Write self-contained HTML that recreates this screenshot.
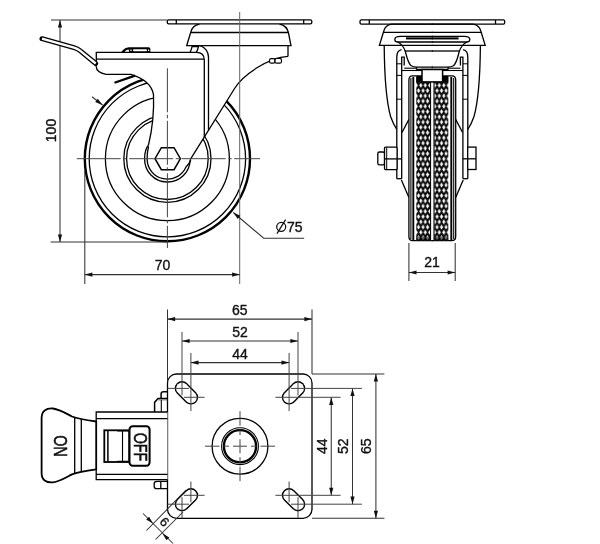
<!DOCTYPE html>
<html><head><meta charset="utf-8"><style>
html,body{margin:0;padding:0;background:#fff;}
svg{display:block;will-change:transform;}
text{font-family:"Liberation Sans",sans-serif;fill:#111;stroke:#111;stroke-width:0.35px;}
.k{fill:none;stroke:#000;stroke-width:1.3;}
.t{fill:none;stroke:#333;stroke-width:1.05;}
.x{fill:none;stroke:#444;stroke-width:1.0;}
.c{fill:none;stroke:#444;stroke-width:1.0;stroke-dasharray:44 2.5 3.5 2.5;}
</style></head><body>
<svg width="600" height="544" viewBox="0 0 600 544">
<defs>
<pattern id="knurl" x="416.3" y="77.5" width="4.5" height="10.5" patternUnits="userSpaceOnUse">
<rect width="4.5" height="10.5" fill="#0a0a0a"/>
<path d="M2.25,0.55 L3.6,2.625 L2.25,4.7 L0.9,2.625 Z" fill="#fff" stroke="#fff" stroke-width="0.5" stroke-linejoin="round"/>
<path d="M0,5.8 L1.35,7.875 L0,9.95 L-1.35,7.875 Z" fill="#fff" stroke="#fff" stroke-width="0.5" stroke-linejoin="round"/>
<path d="M4.5,5.8 L5.85,7.875 L4.5,9.95 L3.15,7.875 Z" fill="#fff" stroke="#fff" stroke-width="0.5" stroke-linejoin="round"/>
</pattern>
</defs>
<rect width="600" height="544" fill="#fff"/>
<circle cx="167.4" cy="158.7" r="82.6" style="stroke-width:2.4" class="k"/>
<circle cx="167.4" cy="158.7" r="78.2" class="k"/>
<circle cx="167.4" cy="158.7" r="62" class="k"/>
<circle cx="167.4" cy="158.7" r="43.6" class="k"/>
<circle cx="167.4" cy="158.7" r="40.8" class="k"/>
<path d="M96.3,52.3 L190,52.3 L192.3,45.7 L200,45.7 C205,47 208.7,52 208.7,57 L208.7,60 L288,56 C268,57.5 242.9,75.2 234.9,88 L190.2,159.7 A22.8,22.8 0 0 1 144.6,158.7 C144.6,152 146,148 148.5,145 Q154.5,120 153.5,94.5 C152,86 146,79 131,74.3 L106,74.3 C100,73 96.3,70 96.3,66.7 Z" fill="#fff" stroke="none"/>
<path class="k" d="M96.3,66.7 L96.3,52.3 L196.3,52.3 C201,52.3 204.3,55 204.3,60 L204.3,137.2"/>
<path class="k" d="M96.3,59.2 L204.3,59.2"/>
<path class="k" d="M200,45.7 C205,47 208.5,52 208.5,57 L208.5,130.5"/>
<path class="k" d="M192.3,45.7 C191.5,49 191,51 190,52.3"/>
<path class="k" d="M198.7,45.7 C198,49 197.3,51 196.3,52.3"/>
<path d="M192.3,45.4 L199.5,45.4 L199,47.3 L192,47.3 Z" fill="#000"/>
<path class="k" d="M96.3,66.7 C96.3,70 100,73 106,74.3 L131,74.3 C146,79 152,86 153.5,94.5 Q154.5,120 148.5,145"/>
<path class="k" d="M148.5,145 C146,148 144.6,152 144.6,158.7 A22.8,22.8 0 0 0 190.2,159.7"/>
<path class="k" d="M148.6,146.5 C147.6,150 147.1,154 147.1,158.7 A20.3,20.3 0 0 0 186,167 C188,165 189.5,163 190.8,160.2"/>
<path class="k" d="M288,56.3 C268,57.5 242.9,75.2 234.9,88 L190.2,159.7"/>
<polygon style="stroke-width:1.5" class="k" points="180.40,158.70 174.05,169.70 161.35,169.70 155.00,158.70 161.35,147.70 174.05,147.70"/>
<path class="k" d="M199.5,24 C194.5,25 191.5,28 190.5,33 L186.7,45.7 L291,45.7 L288.5,33 C287.5,28 284,25 279.5,24"/>
<path class="k" d="M190.8,32.5 L289,32.5"/>
<path class="k" d="M288,45.7 L288,56.5"/>
<rect x="269.5" y="58.6" width="5.5" height="4.6" rx="1.8" style="stroke-width:1.2;fill:#fff" class="k"/>
<rect x="275" y="58.4" width="6.5" height="4.8" rx="1.8" style="stroke-width:1.2;fill:#fff" class="k"/>
<rect x="167.3" y="19.9" width="144.5" height="4" rx="1.4" style="fill:#fff" class="k"/>
<line x1="176.3" y1="19.9" x2="176.3" y2="23.9" class="k"/>
<line x1="303.7" y1="19.9" x2="303.7" y2="23.9" class="k"/>
<path fill="#000" d="M120.8,52.8 C123,49.6 125.5,47.2 129,47.2 L148.6,47.2 Q150.4,47.2 150.4,49 L150.4,52.8 Z"/>
<rect x="133" y="49.3" width="14" height="1.9" rx="0.95" fill="#fff"/>
<path d="M124.6,51.7 C125.8,50.3 127,49.5 128.6,49.4 L129.2,51.7 Z" fill="#fff"/>
<rect x="130.3" y="49.6" width="1.4" height="1.4" fill="#fff"/>
<rect x="148" y="49.6" width="1.2" height="1.4" fill="#fff"/>
<line x1="114.5" y1="82.8" x2="135" y2="75.6" stroke="#000" stroke-width="2.2"/>
<line x1="76.7" y1="158.7" x2="260" y2="158.7" class="c"/>
<line x1="167.4" y1="68.3" x2="167.4" y2="248" class="c"/>
<line x1="239.7" y1="12" x2="239.7" y2="284" style="stroke:#666" class="x"/>
<line x1="51" y1="20" x2="167" y2="20" class="t"/>
<line x1="50.6" y1="242" x2="167" y2="242" class="t"/>
<line x1="60" y1="20" x2="60" y2="242" class="t"/>
<path d="M60.00,20.00 L62.10,27.60 L57.90,27.60 Z" fill="#111"/>
<path d="M60.00,242.00 L57.90,234.40 L62.10,234.40 Z" fill="#111"/>
<text x="55.5" y="130.5" font-size="14" text-anchor="middle" transform="rotate(-90 55.5 130.5)">100</text>
<line x1="84.8" y1="170" x2="84.8" y2="284" class="t"/>
<line x1="84.8" y1="274.6" x2="239.7" y2="274.6" class="t"/>
<path d="M84.80,274.60 L92.40,272.50 L92.40,276.70 Z" fill="#111"/>
<path d="M239.70,274.60 L232.10,276.70 L232.10,272.50 Z" fill="#111"/>
<text x="162.5" y="270" font-size="14" text-anchor="middle">70</text>
<path class="t" d="M233.3,212.5 L263.7,238.2 L304.2,238.2"/>
<path d="M233.30,212.50 L240.46,215.80 L237.75,219.01 Z" fill="#111"/>
<line x1="92" y1="96.75" x2="102.5" y2="105" class="t"/>
<path d="M102.50,105.00 L95.23,101.96 L97.82,98.65 Z" fill="#111"/>
<circle cx="281.2" cy="226.8" r="4.5" fill="none" stroke="#111" stroke-width="1.25"/>
<line x1="277" y1="233.6" x2="285.6" y2="219.6" stroke="#111" stroke-width="1.25"/>
<text x="287" y="231.6" font-size="14" text-anchor="start">75</text>
<path d="M42,38.7 L74,47.6 Q77.5,48.6 80,50.6 L95.7,63.5" fill="none" stroke="#000" stroke-width="5.0" stroke-linecap="round" stroke-linejoin="round"/>
<path d="M42,38.7 L74,47.6 Q77.5,48.6 80,50.6 L95.7,63.5" fill="none" stroke="#fff" stroke-width="2.4" stroke-linecap="butt" stroke-linejoin="round"/>
<rect x="360" y="19.9" width="144.7" height="4.2" rx="1.4" style="fill:#fff" class="k"/>
<line x1="369.3" y1="19.9" x2="369.3" y2="24.1" class="k"/>
<line x1="495.5" y1="19.9" x2="495.5" y2="24.1" class="k"/>
<path class="k" d="M432.9,24.1 L391.4,24.1 C386.5,25 384.5,28 383.8,31 L379.4,45.4 L432.9,45.4"/>
<line x1="383.3" y1="32.4" x2="432.9" y2="32.4" class="k"/>
<path class="k" d="M384.2,45.4 C384.4,70 386,100 390.6,116.5 C392.5,122 394.5,126 396.8,129.5"/>
<path class="k" d="M396.8,178.7 L396.8,57 C396.8,52.5 398.5,50.2 401.5,49.6"/>
<path class="k" d="M401.7,178.7 L401.7,57.2 L404.2,57.2 L404.2,65.5"/>
<line x1="396.8" y1="178.7" x2="401.7" y2="178.7" class="k"/>
<line x1="396.8" y1="99.2" x2="401.7" y2="99.2" style="stroke-width:1" class="k"/>
<line x1="396.8" y1="63.8" x2="401.7" y2="63.8" style="stroke-width:1" class="k"/>
<line x1="396.8" y1="75.4" x2="401.7" y2="75.4" style="stroke-width:1" class="k"/>
<line x1="408.9" y1="119.4" x2="402" y2="132.5" class="k"/>
<line x1="401.4" y1="180" x2="408.9" y2="197.4" class="k"/>
<path class="k" d="M432.9,36.3 L400.4,36.3 C396.6,36.3 394.8,37.8 394.8,39.4 C394.8,41 396,42 398.2,42 L432.9,42"/>
<line x1="406" y1="38.4" x2="432.9" y2="38.4" stroke="#000" stroke-width="2.1"/>
<path class="k" d="M397.5,42 C401,43.5 404,47 405.5,52 C407,58 408,63 411.2,65.8 C412.8,66.8 414.5,67.1 416.9,67.1 L432.9,67.1"/>
<line x1="404.8" y1="51" x2="432.9" y2="51" class="k"/>
<path class="k" d="M432.9,69.5 L417.5,69.5 C416.5,69.5 416,68.8 416.9,67.1"/>
<line x1="404.2" y1="68.2" x2="416.6" y2="68.2" style="stroke-width:1.1" class="k"/>
<line x1="401.7" y1="70.5" x2="422" y2="70.5" style="stroke-width:1.1" class="k"/>
<path fill="#fff" stroke="none" d="M432.9,75.9 L412.5,75.9 C410.2,75.9 408.9,77.5 408.9,80 L408.9,236.5 C408.9,239 410.2,240.6 412.8,240.6 L432.9,240.6 Z"/>
<path class="k" d="M432.9,75.9 L412.5,75.9 C410.2,75.9 408.9,77.5 408.9,80 L408.9,236.5 C408.9,239 410.2,240.6 412.8,240.6 L432.9,240.6"/>
<line x1="410.9" y1="78" x2="410.9" y2="239" style="stroke-width:1.1" class="k"/>
<line x1="413.3" y1="77" x2="413.3" y2="240" stroke="#000" stroke-width="1.9"/>
<rect x="416.3" y="75.9" width="14" height="164.7" fill="url(#knurl)"/>
<rect x="416.3" y="75.9" width="5.9" height="6.5" fill="#000"/>
<rect x="416.3" y="236.5" width="14" height="4" fill="#000" opacity="0.55"/>
<line x1="430.6" y1="75.9" x2="430.6" y2="240.6" stroke="#000" stroke-width="1.1"/>
<g transform="translate(864.6,0) scale(-1,1)"><path class="k" d="M432.9,24.1 L391.4,24.1 C386.5,25 384.5,28 383.8,31 L379.4,45.4 L432.9,45.4"/>
<line x1="383.3" y1="32.4" x2="432.9" y2="32.4" class="k"/>
<path class="k" d="M384.2,45.4 C384.4,70 386,100 390.6,116.5 C392.5,122 394.5,126 396.8,129.5"/>
<path class="k" d="M396.8,178.7 L396.8,57 C396.8,52.5 398.5,50.2 401.5,49.6"/>
<path class="k" d="M401.7,178.7 L401.7,57.2 L404.2,57.2 L404.2,65.5"/>
<line x1="396.8" y1="178.7" x2="401.7" y2="178.7" class="k"/>
<line x1="396.8" y1="99.2" x2="401.7" y2="99.2" style="stroke-width:1" class="k"/>
<line x1="396.8" y1="63.8" x2="401.7" y2="63.8" style="stroke-width:1" class="k"/>
<line x1="396.8" y1="75.4" x2="401.7" y2="75.4" style="stroke-width:1" class="k"/>
<line x1="408.9" y1="119.4" x2="402" y2="132.5" class="k"/>
<line x1="401.4" y1="180" x2="408.9" y2="197.4" class="k"/>
<path class="k" d="M432.9,36.3 L400.4,36.3 C396.6,36.3 394.8,37.8 394.8,39.4 C394.8,41 396,42 398.2,42 L432.9,42"/>
<line x1="406" y1="38.4" x2="432.9" y2="38.4" stroke="#000" stroke-width="2.1"/>
<path class="k" d="M397.5,42 C401,43.5 404,47 405.5,52 C407,58 408,63 411.2,65.8 C412.8,66.8 414.5,67.1 416.9,67.1 L432.9,67.1"/>
<line x1="404.8" y1="51" x2="432.9" y2="51" class="k"/>
<path class="k" d="M432.9,69.5 L417.5,69.5 C416.5,69.5 416,68.8 416.9,67.1"/>
<line x1="404.2" y1="68.2" x2="416.6" y2="68.2" style="stroke-width:1.1" class="k"/>
<line x1="401.7" y1="70.5" x2="422" y2="70.5" style="stroke-width:1.1" class="k"/>
<path fill="#fff" stroke="none" d="M432.9,75.9 L412.5,75.9 C410.2,75.9 408.9,77.5 408.9,80 L408.9,236.5 C408.9,239 410.2,240.6 412.8,240.6 L432.9,240.6 Z"/>
<path class="k" d="M432.9,75.9 L412.5,75.9 C410.2,75.9 408.9,77.5 408.9,80 L408.9,236.5 C408.9,239 410.2,240.6 412.8,240.6 L432.9,240.6"/>
<line x1="410.9" y1="78" x2="410.9" y2="239" style="stroke-width:1.1" class="k"/>
<line x1="413.3" y1="77" x2="413.3" y2="240" stroke="#000" stroke-width="1.9"/>
<rect x="416.3" y="75.9" width="14" height="164.7" fill="url(#knurl)"/>
<rect x="416.3" y="75.9" width="5.9" height="6.5" fill="#000"/>
<rect x="416.3" y="236.5" width="14" height="4" fill="#000" opacity="0.55"/>
<line x1="430.6" y1="75.9" x2="430.6" y2="240.6" stroke="#000" stroke-width="1.1"/></g>
<rect x="422" y="69.5" width="20.6" height="12.4" fill="#fff" stroke="#000" stroke-width="1.5"/>
<rect x="377.8" y="152" width="6.8" height="12.8" rx="1.6" style="fill:#fff" class="k"/>
<rect x="384.5" y="147.1" width="12.6" height="22.5" rx="1" style="fill:#fff" class="k"/>
<line x1="386.7" y1="147.6" x2="386.7" y2="169.1" style="stroke-width:1" class="k"/>
<line x1="384.5" y1="158.9" x2="401.7" y2="158.9" class="k"/>
<rect x="467.7" y="147.1" width="8.3" height="22.4" style="fill:#fff" class="k"/>
<line x1="462.7" y1="158.8" x2="476" y2="158.8" class="k"/>
<line x1="408.9" y1="243" x2="408.9" y2="281" class="t"/>
<line x1="455.2" y1="243" x2="455.2" y2="281" class="t"/>
<line x1="408.9" y1="272.5" x2="455.2" y2="272.5" class="t"/>
<path d="M408.90,272.50 L416.50,270.40 L416.50,274.60 Z" fill="#111"/>
<path d="M455.20,272.50 L447.60,274.60 L447.60,270.40 Z" fill="#111"/>
<text x="432" y="267.3" font-size="14" text-anchor="middle">21</text>
<line x1="167.5" y1="309.5" x2="167.5" y2="446.2" class="t"/>
<line x1="312" y1="309.5" x2="312" y2="374" class="t"/>
<line x1="167.5" y1="319.1" x2="312" y2="319.1" class="t"/>
<path d="M167.50,319.10 L175.10,317.00 L175.10,321.20 Z" fill="#111"/>
<path d="M312.00,319.10 L304.40,321.20 L304.40,317.00 Z" fill="#111"/>
<text x="239.75" y="314.6" font-size="14" text-anchor="middle">65</text>


<line x1="182" y1="341" x2="298" y2="341" class="t"/>
<path d="M182.00,341.00 L189.60,338.90 L189.60,343.10 Z" fill="#111"/>
<path d="M298.00,341.00 L290.40,343.10 L290.40,338.90 Z" fill="#111"/>
<text x="240.0" y="337.2" font-size="14" text-anchor="middle">52</text>


<line x1="190.9" y1="362.6" x2="289.1" y2="362.6" class="t"/>
<path d="M190.90,362.60 L198.50,360.50 L198.50,364.70 Z" fill="#111"/>
<path d="M289.10,362.60 L281.50,364.70 L281.50,360.50 Z" fill="#111"/>
<text x="240.0" y="359" font-size="14" text-anchor="middle">44</text>
<line x1="312" y1="374" x2="384.4" y2="374" class="t"/>
<line x1="312" y1="518.3" x2="384.4" y2="518.3" class="t"/>
<line x1="375.9" y1="374" x2="375.9" y2="518.3" class="t"/>
<path d="M375.90,374.00 L378.00,381.60 L373.80,381.60 Z" fill="#111"/>
<path d="M375.90,518.30 L373.80,510.70 L378.00,510.70 Z" fill="#111"/>
<text x="371.2" y="446.15" font-size="14" text-anchor="middle" transform="rotate(-90 371.2 446.15)">65</text>
<line x1="352.5" y1="388.4" x2="352.5" y2="504.2" class="t"/>
<path d="M352.50,388.40 L354.60,396.00 L350.40,396.00 Z" fill="#111"/>
<path d="M352.50,504.20 L350.40,496.60 L354.60,496.60 Z" fill="#111"/>
<text x="348.2" y="446.29999999999995" font-size="14" text-anchor="middle" transform="rotate(-90 348.2 446.29999999999995)">52</text>
<line x1="331.25" y1="397.3" x2="331.25" y2="495.3" class="t"/>
<path d="M331.25,397.30 L333.35,404.90 L329.15,404.90 Z" fill="#111"/>
<path d="M331.25,495.30 L329.15,487.70 L333.35,487.70 Z" fill="#111"/>
<text x="327" y="446.3" font-size="14" text-anchor="middle" transform="rotate(-90 327 446.3)">44</text>
<rect x="167.5" y="374" width="144.5" height="144.3" rx="9" style="fill:#fff" class="k"/>
<line x1="182" y1="388.4" x2="190.9" y2="397.3" stroke="#000" stroke-width="14.6" stroke-linecap="round"/>
<line x1="182" y1="388.4" x2="190.9" y2="397.3" stroke="#fff" stroke-width="11.8" stroke-linecap="round"/>
<line x1="298" y1="388.4" x2="289.1" y2="397.3" stroke="#000" stroke-width="14.6" stroke-linecap="round"/>
<line x1="298" y1="388.4" x2="289.1" y2="397.3" stroke="#fff" stroke-width="11.8" stroke-linecap="round"/>
<line x1="182" y1="504.2" x2="190.9" y2="495.3" stroke="#000" stroke-width="14.6" stroke-linecap="round"/>
<line x1="182" y1="504.2" x2="190.9" y2="495.3" stroke="#fff" stroke-width="11.8" stroke-linecap="round"/>
<line x1="298" y1="504.2" x2="289.1" y2="495.3" stroke="#000" stroke-width="14.6" stroke-linecap="round"/>
<line x1="298" y1="504.2" x2="289.1" y2="495.3" stroke="#fff" stroke-width="11.8" stroke-linecap="round"/>
<line x1="204.6" y1="397.3" x2="183.9" y2="397.3" class="x"/>
<line x1="190.9" y1="411.0" x2="190.9" y2="353" class="x"/>
<line x1="189" y1="388.4" x2="167.5" y2="388.4" class="x"/>
<line x1="182" y1="395.4" x2="182" y2="332" class="x"/>
<line x1="275.40000000000003" y1="397.3" x2="340.6" y2="397.3" class="x"/>
<line x1="289.1" y1="411.0" x2="289.1" y2="353" class="x"/>
<line x1="291" y1="388.4" x2="361.9" y2="388.4" class="x"/>
<line x1="298" y1="395.4" x2="298" y2="332" class="x"/>
<line x1="204.6" y1="495.3" x2="183.9" y2="495.3" class="x"/>
<line x1="190.9" y1="481.6" x2="190.9" y2="502.3" class="x"/>
<line x1="189" y1="504.2" x2="167.5" y2="504.2" class="x"/>
<line x1="182" y1="497.2" x2="182" y2="518.3" class="x"/>
<line x1="275.40000000000003" y1="495.3" x2="340.6" y2="495.3" class="x"/>
<line x1="289.1" y1="481.6" x2="289.1" y2="502.3" class="x"/>
<line x1="291" y1="504.2" x2="361.9" y2="504.2" class="x"/>
<line x1="298" y1="497.2" x2="298" y2="518.3" class="x"/>
<circle cx="240" cy="446.2" r="27.9" class="k"/>
<circle cx="240" cy="446.2" r="18.4" style="stroke-width:1.1" class="k"/>
<circle cx="240" cy="446.2" r="16.1" style="stroke-width:2.3" class="k"/>
<line x1="205" y1="446.2" x2="219.5" y2="446.2" class="x"/>
<line x1="240" y1="411.2" x2="240" y2="425.7" class="x"/>
<line x1="223.5" y1="446.2" x2="229" y2="446.2" class="x"/>
<line x1="240" y1="429.7" x2="240" y2="435.2" class="x"/>
<line x1="233" y1="446.2" x2="247" y2="446.2" class="x"/>
<line x1="240" y1="439.2" x2="240" y2="453.2" class="x"/>
<line x1="251" y1="446.2" x2="256.5" y2="446.2" class="x"/>
<line x1="240" y1="457.2" x2="240" y2="462.7" class="x"/>
<line x1="260.5" y1="446.2" x2="275" y2="446.2" class="x"/>
<line x1="240" y1="466.7" x2="240" y2="481.2" class="x"/>
<path style="fill:#fff" class="k" d="M167.5,412 L96.2,412 L96.2,479.7 L167.5,479.7"/>
<line x1="96.2" y1="418.6" x2="167.5" y2="418.6" class="k"/>
<line x1="96.2" y1="474.4" x2="167.5" y2="474.4" class="k"/>
<rect x="104.3" y="430.3" width="25" height="31.7" fill="#fff" stroke="#000" stroke-width="1.8"/>
<line x1="107.9" y1="430.3" x2="107.9" y2="462" style="stroke-width:1.5" class="k"/>
<line x1="122.5" y1="430.3" x2="122.5" y2="462" style="stroke-width:1.1" class="k"/>
<path d="M116.6,430.3 L117.4,431.6 L129.3,431.6 L129.3,430.3 Z M116.6,462 L117.4,460.7 L129.3,460.7 L129.3,462 Z" fill="#000"/>
<rect x="129.5" y="426.2" width="20.1" height="39.6" rx="3.2" fill="#fff" stroke="#000" stroke-width="2"/>
<text x="0" y="0" font-size="19" style="stroke-width:0.6px" text-anchor="middle" transform="translate(140,447) rotate(90) scale(0.75,1)" dominant-baseline="central">OFF</text>
<path style="stroke-width:1.5" class="k" d="M167.5,398.6 L158,398.6 L154.6,402.4 L154.6,412 M161.1,398.6 L161.1,394 C161.1,392.6 162,391.8 163.5,391.8 L167.5,391.8"/>
<line x1="158" y1="399.9" x2="167.5" y2="399.9" stroke="#555" stroke-width="0.8"/>
<line x1="161.3" y1="400" x2="161.3" y2="412" style="stroke-width:1.1" class="k"/>
<path class="k" d="M167.5,481.3 L157,481.3 C155.5,481.3 154.2,482 154.2,483.5 L154.2,486.5 C154.2,488 155.5,488.7 157,488.7 L167.5,488.7 M160.8,481.3 L160.8,488.7"/>
<path fill="#fff" stroke="#000" stroke-width="1.8" d="M96.2,421.5 C85,420 78,419 72,416.5 C66,413.5 60,409.5 53,408.5 C46,408 41.6,411 41.6,418 L41.6,472.9 C41.6,479.9 46,482.9 53,482.4 C60,481.4 66,477.4 72,474.4 C78,471.9 85,470.9 96.2,469.4 Z"/>
<line x1="74.7" y1="417.3" x2="74.7" y2="473.6" class="k"/>
<line x1="81.3" y1="419.1" x2="81.3" y2="471.8" class="k"/>
<text x="0" y="0" font-size="19" style="stroke-width:0.6px" text-anchor="middle" transform="translate(60.4,446) rotate(90) scale(0.75,1)" dominant-baseline="central">ON</text>
<line x1="186" y1="490" x2="146.5" y2="530.5" class="t"/>
<line x1="183" y1="512" x2="155.5" y2="539.5" class="t"/>
<line x1="143" y1="513.5" x2="173" y2="543.5" class="t"/>
<path d="M153.00,523.50 L146.14,519.61 L149.11,516.64 Z" fill="#111"/>
<path d="M162.50,533.50 L169.36,537.39 L166.39,540.36 Z" fill="#111"/>
<text x="164.5" y="522" font-size="13" text-anchor="middle" transform="rotate(45 164.5 522)" dominant-baseline="central">6</text>
</svg>
</body></html>
